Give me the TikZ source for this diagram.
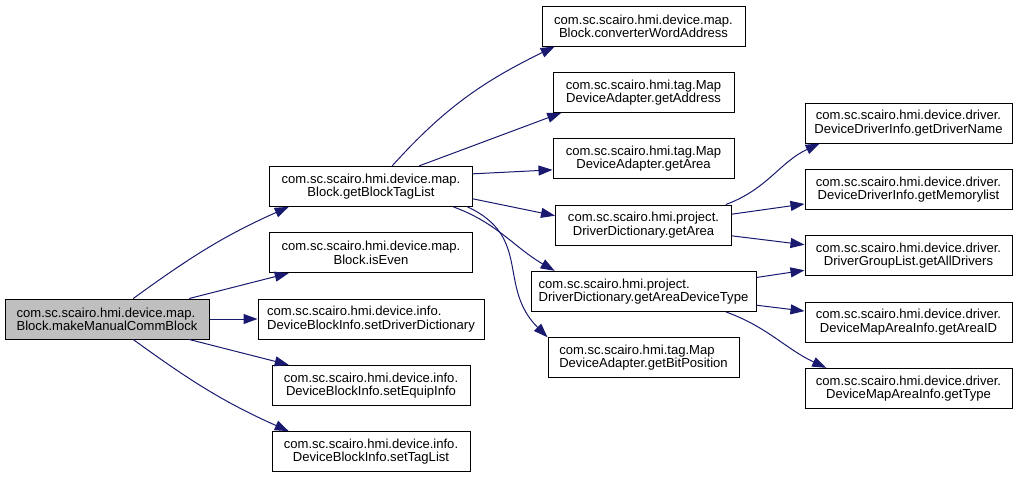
\documentclass[tikz,border=0pt]{standalone}
\usepackage{fontspec}
\setmainfont{Liberation Sans}
\usepackage{xcolor}
\definecolor{colorCall}{HTML}{191970}
\colorlet{colorRoot}{black!25}
\usepackage{tikz}
\usetikzlibrary{arrows.meta, positioning}
\tikzset{
  fn/.style={draw=black, line width=0.75pt, fill=white, minimum height=30pt, inner xsep=3pt, inner ysep=0pt, align=center, font=\fontsize{9.8}{10}\selectfont},
  fnleft/.style={fn, align=left},
  call/.style={->, draw=colorCall, line width=0.75pt}
}
\begin{document}
\begin{tikzpicture}[x=0.75pt, y=-0.75pt, >={Triangle[length=10.5pt, width=7.5pt]}, node distance=19pt]
\useasboundingbox (0,0) rectangle (1017,476);
\node[fnleft, fill=colorRoot, minimum width=153pt] (mmcb) at (107,319) {com.sc.scairo.hmi.device.map.\\Block.makeManualCommBlock};
\node[fnleft, minimum width=169.5pt, right=36pt of mmcb] (sdd) {com.sc.scairo.hmi.device.info.\\DeviceBlockInfo.setDriverDictionary};
\node[fn, minimum width=152.25pt, above=of sdd] (isEven) {com.sc.scairo.hmi.device.map.\\Block.isEven};
\node[fn, minimum width=152.25pt, above=of isEven] (gbtl) {com.sc.scairo.hmi.device.map.\\Block.getBlockTagList};
\node[fn, minimum width=148.5pt, below=of sdd] (seq) {com.sc.scairo.hmi.device.info.\\DeviceBlockInfo.setEquipInfo};
\node[fn, minimum width=148.5pt, below=of seq] (stl) {com.sc.scairo.hmi.device.info.\\DeviceBlockInfo.setTagList};
\node[fn, minimum width=152.25pt] (cwa) at (643.5,26) {com.sc.scairo.hmi.device.map.\\Block.converterWordAddress};
\node[fn, minimum width=135.75pt, below=of cwa] (getAddr) {com.sc.scairo.hmi.tag.Map\\DeviceAdapter.getAddress};
\node[fn, minimum width=135.75pt, below=of getAddr] (tagArea) {com.sc.scairo.hmi.tag.Map\\DeviceAdapter.getArea};
\node[fn, minimum width=132pt, below=of tagArea] (ddArea) {com.sc.scairo.hmi.project.\\DriverDictionary.getArea};
\node[fnleft, minimum width=168.75pt, below=of ddArea] (ddType) {com.sc.scairo.hmi.project.\\DriverDictionary.getAreaDeviceType};
\node[fnleft, minimum width=143.25pt, below=of ddType] (bitPos) {com.sc.scairo.hmi.tag.Map\\DeviceAdapter.getBitPosition};
\node[fn, minimum width=155.25pt] (drvName) at (908.5,123) {com.sc.scairo.hmi.device.driver.\\DeviceDriverInfo.getDriverName};
\node[fn, minimum width=155.25pt, below=of drvName] (memList) {com.sc.scairo.hmi.device.driver.\\DeviceDriverInfo.getMemorylist};
\node[fn, minimum width=155.25pt, below=of memList] (allDrv) {com.sc.scairo.hmi.device.driver.\\DriverGroupList.getAllDrivers};
\node[fn, minimum width=155.25pt, below=of allDrv] (areaID) {com.sc.scairo.hmi.device.driver.\\DeviceMapAreaInfo.getAreaID};
\node[fn, minimum width=155.25pt, below=of areaID] (areaType) {com.sc.scairo.hmi.device.driver.\\DeviceMapAreaInfo.getType};
\draw [call] (mmcb.38) to[out=36, in=204] (gbtl.194);
\draw [call] (mmcb.14) -- (isEven.194);
\draw [call] (mmcb) -- (sdd);
\draw [call] (mmcb.-14) -- (seq.166);
\draw [call] (mmcb.-38) to[out=-36, in=156] (stl.166);
\draw [call] (gbtl.44) to[out=48, in=206] (cwa.193);
\draw [call] (gbtl.23) -- (getAddr.194);
\draw [call] (gbtl.7) -- (tagArea.187);
\draw [call] (gbtl.-7) -- (ddArea.174);
\draw [call] (gbtl.-14) to[out=-20, in=150] (ddType.167);
\draw [call] (gbtl.-12) to[out=-25, in=135, looseness=1.2] (bitPos.168);
\draw [call] (ddArea.14) to[out=20, in=205] (drvName.193);
\draw [call] (ddArea.7) -- (memList.188);
\draw [call] (ddArea.-7) -- (allDrv.174);
\draw [call] (ddType.7) -- (allDrv.188);
\draw [call] (ddType.-7) -- (areaID.174);
\draw [call] (ddType.-14) to[out=-20, in=155] (areaType.166);
\end{tikzpicture}
\end{document}
